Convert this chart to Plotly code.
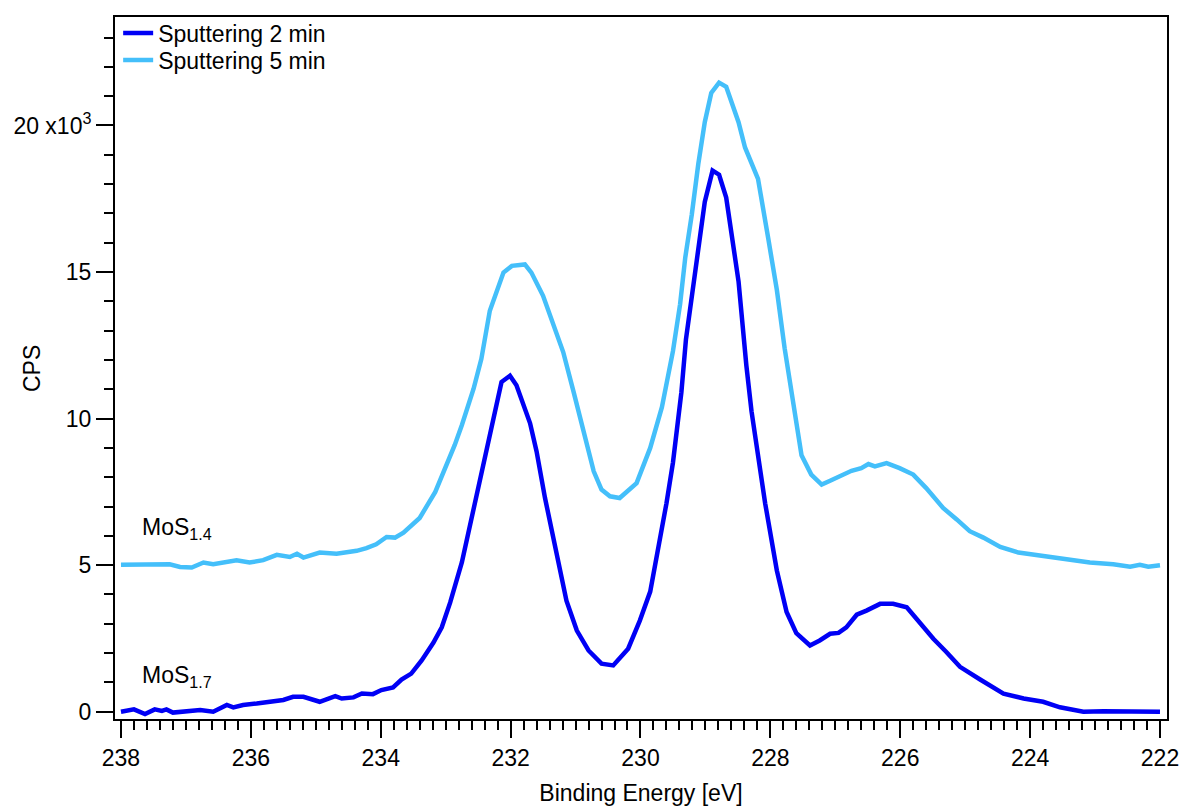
import plotly.graph_objects as go

# Binding energy (eV) and CPS
be_2min = [238.0, 237.8, 237.63, 237.48, 237.37, 237.3, 237.2, 236.99, 236.78, 236.58,
           236.37, 236.27, 236.12, 235.91, 235.71, 235.5, 235.35, 235.19, 234.94, 234.7,
           234.6, 234.42, 234.29, 234.12, 233.99, 233.81, 233.68, 233.53, 233.37, 233.19,
           233.06, 232.93, 232.75, 232.6, 232.45, 232.29, 232.14, 232.01, 231.91, 231.7,
           231.6, 231.47, 231.29, 231.14, 230.98, 230.8, 230.6, 230.42, 230.19, 230.01,
           229.85, 229.75, 229.6, 229.5, 229.37, 229.3, 229.19, 229.09, 229.01, 228.89,
           228.79, 228.68, 228.49, 228.37, 228.29, 228.08, 227.9, 227.75, 227.6, 227.39,
           227.24, 227.08, 226.95, 226.83, 226.67, 226.52, 226.31, 226.11, 225.9, 225.75,
           225.49, 225.29, 225.08, 224.77, 224.41, 224.1, 223.8, 223.54, 223.18, 222.87,
           222.0]
cps_2min = [0, 80, -80, 80, 30, 80, -30, 30, 60, 0,
            230, 150, 230, 280, 340, 400, 510, 510, 340, 530,
            450, 490, 620, 600, 740, 830, 1100, 1300, 1750, 2350,
            2880, 3730, 5100, 6610, 8200, 9780, 11250, 11460, 11140, 9840,
            8880, 7290, 5370, 3790, 2770, 2090, 1640, 1580, 2150, 3110,
            4100, 5250, 7110, 8500, 10900, 12700, 14540, 16110, 17390, 18460,
            18320, 17540, 14680, 11820, 10250, 7110, 4820, 3400, 2680, 2260,
            2430, 2660, 2690, 2880, 3310, 3450, 3680, 3680, 3560, 3170,
            2490, 2040, 1530, 1100, 620, 450, 340, 150, 0, 20,
            0]

be_5min = [238.0, 237.25, 237.09, 236.91, 236.73, 236.58, 236.22, 236.02, 235.81, 235.6,
           235.4, 235.29, 235.19, 234.94, 234.68, 234.37, 234.22, 234.07, 233.91, 233.78,
           233.65, 233.52, 233.4, 233.16, 233.01, 232.86, 232.75, 232.57, 232.45, 232.32,
           232.11, 231.98, 231.78, 231.68, 231.5, 231.29, 231.19, 231.03, 230.88, 230.72,
           230.6, 230.47, 230.32, 230.16, 230.06, 229.85, 229.67, 229.5, 229.39, 229.31,
           229.21, 229.11, 229.01, 228.91, 228.79, 228.68, 228.49, 228.39, 228.19, 228.03,
           227.9, 227.78, 227.65, 227.52, 227.37, 227.21, 227.08, 226.93, 226.75, 226.6,
           226.49, 226.39, 226.21, 226.01, 225.8, 225.6, 225.34, 225.13, 224.93, 224.72,
           224.46, 224.18, 223.82, 223.49, 223.08, 222.72, 222.46, 222.31, 222.18, 222.0]
cps_5min = [5010, 5030, 4940, 4920, 5090, 5030, 5170, 5090, 5170, 5350,
            5280, 5390, 5260, 5430, 5390, 5490, 5580, 5710, 5960, 5940,
            6110, 6390, 6610, 7500, 8270, 9100, 9780, 11020, 12040, 13680,
            14980, 15210, 15260, 14980, 14190, 12950, 12270, 10910, 9670, 8200,
            7580, 7350, 7290, 7580, 7800, 9000, 10390, 12300, 13900, 15500,
            16960, 18680, 20110, 21110, 21460, 21320, 20110, 19250, 18180, 16110,
            14390, 12400, 10680, 8750, 8090, 7750, 7880, 8030, 8220, 8310,
            8450, 8370, 8480, 8310, 8090, 7630, 6950, 6560, 6160, 5940,
            5620, 5430, 5320, 5200, 5090, 5030, 4950, 5010, 4950, 5000]

series_names = ["Sputtering 2 min", "Sputtering 5 min"]
series_colors = ["#0000F5", "#44BFFA"]

y_tickvals = [0, 5000, 10000, 15000, 20000]
y_ticktext = ["0", "5", "10", "15", "20 x10<sup>3</sup>"]
x_tickvals = [238, 236, 234, 232, 230, 228, 226, 224, 222]

labels = [("MoS<sub>1.4</sub>", 237.70, 6250), ("MoS<sub>1.7</sub>", 237.70, 1210)]

FONT = "Liberation Sans, Arial, sans-serif"

fig = go.Figure()
fig.add_trace(go.Scatter(x=be_2min, y=cps_2min, mode="lines", name=series_names[0],
                         line=dict(color=series_colors[0], width=4.5), legend="legend"))
fig.add_trace(go.Scatter(x=be_5min, y=cps_5min, mode="lines", name=series_names[1],
                         line=dict(color=series_colors[1], width=4.5), legend="legend2"))

for txt, xx, yy in labels:
    fig.add_annotation(x=xx, y=yy, text=txt, showarrow=False, xanchor="left",
                       yanchor="middle", font=dict(size=23, color="black", family=FONT))

# y-axis title placed as rotated text (sits over the tick-label column as in the reference)
fig.add_annotation(xref="paper", yref="paper", x=-0.0789, y=0.5, text="CPS",
                   textangle=-90, showarrow=False, xanchor="center", yanchor="middle",
                   font=dict(size=23, color="black", family=FONT))

axis_common = dict(showline=True, linecolor="black", linewidth=2, mirror=True,
                   ticks="outside", tickcolor="black", tickwidth=2, ticklen=17,
                   showgrid=False, zeroline=False, automargin=False,
                   ticklabeloverflow="allow",
                   tickfont=dict(size=23, color="black", family=FONT))

fig.update_xaxes(range=[238.092, 221.892], tickvals=x_tickvals,
                 ticktext=[str(v) for v in x_tickvals],
                 minor=dict(dtick=0.2, tick0=222, ticks="outside", ticklen=9,
                            tickwidth=2, tickcolor="black", showgrid=False),
                 title=dict(text="Binding Energy [eV]", font=dict(size=23, color="black", family=FONT),
                            standoff=21),
                 **axis_common)
fig.update_yaxes(range=[-248, 23700], tickvals=y_tickvals, ticktext=y_ticktext,
                 minor=dict(dtick=1000, tick0=0, ticks="outside", ticklen=9,
                            tickwidth=2, tickcolor="black", showgrid=False),
                 **axis_common)

leg_common = dict(xanchor="left", yanchor="middle", bgcolor="rgba(0,0,0,0)",
                  borderwidth=0, font=dict(size=23, color="black", family=FONT))
fig.update_layout(
    width=1183, height=806,
    margin=dict(l=115, r=16, t=13, b=87, pad=0),
    paper_bgcolor="white", plot_bgcolor="white",
    font=dict(family=FONT, size=23, color="black"),
    legend=dict(x=0.003, y=0.977, **leg_common),
    legend2=dict(x=0.003, y=0.9386, **leg_common),
    showlegend=True,
)

# remove the browser's default 8px page margin so the figure fills the window exactly
fig.write_html("out.html", config={"displayModeBar": False},
               post_script="document.body.style.margin='0';document.body.style.overflow='hidden';")
